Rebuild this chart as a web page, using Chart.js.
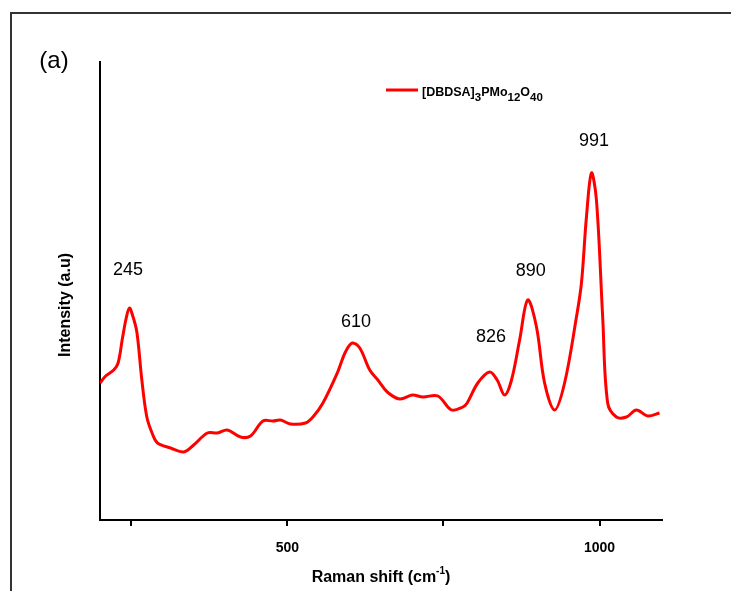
<!DOCTYPE html>
<html lang="en">
<head>
<meta charset="UTF-8">
<title>Raman spectrum (a)</title>
<style>
  body { margin: 0; background: #fff; }
  #wrap { width: 731px; height: 591px; }
</style>
</head>
<body>
<div id="wrap"><canvas id="ramanChart" width="731" height="591"></canvas></div>
<script src="https://cdn.jsdelivr.net/npm/chart.js"></script>
<script>
// spectrum (intensity in arbitrary units)
const ramanShift = [200, 209, 222, 229, 236, 242, 247, 252, 259, 267, 275, 284, 292, 313, 334, 350,
  372, 388, 404, 425, 441, 461, 477, 489, 505, 529, 541, 557, 580, 593, 604, 616, 632, 645,
  660, 680, 700, 717, 741, 763, 781, 788, 805, 824, 836, 848, 859, 872, 885, 899, 912, 928,
  944, 963, 971, 979, 987, 995, 1005, 1013, 1027, 1043, 1059, 1077, 1096];
const intensity = [137, 144, 150, 157, 182, 202, 212, 205, 188, 140, 103, 86, 77, 72, 68, 75,
  87, 87, 90, 83, 84, 99, 99, 100, 96, 97, 103, 117, 147, 168, 177, 172, 150, 140,
  128, 121, 125, 123, 124, 110, 113, 117, 137, 148, 140, 125, 140, 180, 220, 193, 137, 110,
  137, 203, 237, 303, 347, 320, 203, 117, 103, 103, 110, 104, 107];

const peakLabels = ['245', '610', '826', '890', '991'];
const peakLabelHeight = [250, 198, 183, 249, 379];
const xTicks = [250, 500, 750, 1000];
const seriesName = [['[DBDSA]', false], ['3', true], ['PMo', false], ['12', true], ['O', false], ['40', true]];

const points = ramanShift.map((x, i) => ({ x: x, y: intensity[i] }));

const decorations = {
  id: 'decorations',
  beforeDraw(chart) {
    const ctx = chart.ctx;
    ctx.save();
    ctx.fillStyle = '#fff';
    ctx.fillRect(0, 0, chart.width, chart.height);
    ctx.strokeStyle = '#333';
    ctx.lineWidth = 2;
    ctx.strokeRect(11, 13, chart.width + 20, chart.height + 20);
    ctx.restore();
  },
  afterDraw(chart) {
    const ctx = chart.ctx;
    const xs = chart.scales.x, ys = chart.scales.y;
    const area = chart.chartArea;
    ctx.save();
    ctx.fillStyle = '#000';
    ctx.textAlign = 'center';
    ctx.textBaseline = 'middle';

    ctx.font = '24px "Liberation Sans", Arial, sans-serif';
    ctx.fillText('(a)', 54, 61);

    // peak labels
    ctx.font = '18px "Liberation Sans", Arial, sans-serif';
    peakLabels.forEach((t, i) => {
      ctx.fillText(t, xs.getPixelForValue(Number(t)), ys.getPixelForValue(peakLabelHeight[i]));
    });

    // y title
    ctx.font = 'bold 16px "Liberation Sans", Arial, sans-serif';
    ctx.save();
    ctx.translate(66, (area.top + area.bottom) / 2 + 14);
    ctx.rotate(-Math.PI / 2);
    ctx.fillText('Intensity (a.u)', 0, 0);
    ctx.restore();

    // x title with superscript
    const main = 'Raman shift (cm', sup = '-1', close = ')';
    ctx.textAlign = 'left';
    ctx.font = 'bold 16px "Liberation Sans", Arial, sans-serif';
    const w1 = ctx.measureText(main).width, w3 = ctx.measureText(close).width;
    ctx.font = 'bold 10px "Liberation Sans", Arial, sans-serif';
    const w2 = ctx.measureText(sup).width;
    let x0 = 381 - (w1 + w2 + w3) / 2;
    const ty = 578;
    ctx.font = 'bold 16px "Liberation Sans", Arial, sans-serif';
    ctx.fillText(main, x0, ty);
    ctx.font = 'bold 10px "Liberation Sans", Arial, sans-serif';
    ctx.fillText(sup, x0 + w1, ty - 7);
    ctx.font = 'bold 16px "Liberation Sans", Arial, sans-serif';
    ctx.fillText(close, x0 + w1 + w2, ty);

    // legend
    ctx.strokeStyle = '#ff0000';
    ctx.lineWidth = 3;
    ctx.beginPath();
    ctx.moveTo(386, 90);
    ctx.lineTo(418, 90);
    ctx.stroke();
    ctx.textBaseline = 'alphabetic';
    let lx = 422;
    seriesName.forEach(([t, sub]) => {
      ctx.font = sub ? 'bold 11.5px "Liberation Sans", Arial, sans-serif' : 'bold 12.5px "Liberation Sans", Arial, sans-serif';
      ctx.fillText(t, lx, sub ? 101 : 96);
      lx += ctx.measureText(t).width;
    });
    ctx.restore();
  }
};

new Chart(document.getElementById('ramanChart'), {
  type: 'line',
  data: {
    datasets: [{
      label: '[DBDSA]3PMo12O40',
      data: points,
      borderColor: '#ff0000',
      borderWidth: 3,
      pointRadius: 0,
      fill: false,
      tension: 0.35
    }]
  },
  options: {
    responsive: false,
    animation: false,
    layout: { padding: { left: 100, top: 62, right: 69, bottom: 0 } },
    plugins: { legend: { display: false }, tooltip: { enabled: false } },
    scales: {
      x: {
        type: 'linear',
        min: 200,
        max: 1100,
        afterBuildTicks: (scale) => { scale.ticks = xTicks.map(v => ({ value: v })); },
        afterFit: (scale) => { scale.height = 71; },
        grid: { drawOnChartArea: false, drawTicks: true, tickLength: 6, color: '#000', lineWidth: 2 },
        border: { display: true, color: '#000', width: 2 },
        ticks: {
          color: '#000',
          padding: 14,
          maxRotation: 0,
          font: { family: '"Liberation Sans", Arial, sans-serif', size: 14, weight: 'bold' },
          callback: (v) => (v % 500 === 0 ? String(v) : '')
        }
      },
      y: {
        min: 0,
        max: 458,
        afterFit: (scale) => { scale.width = 0; },
        grid: { display: false },
        border: { display: true, color: '#000', width: 2 },
        ticks: { display: false }
      }
    }
  },
  plugins: [decorations]
});
</script>
</body>
</html>
